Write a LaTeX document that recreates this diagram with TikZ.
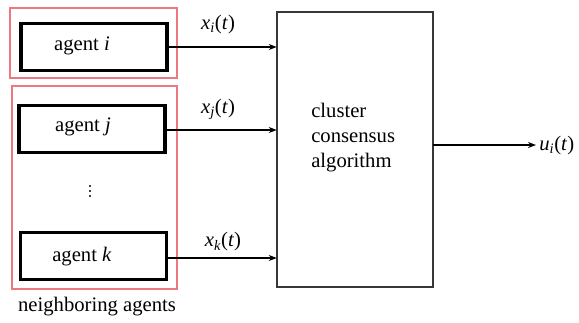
\documentclass[tikz,border=0pt]{standalone}
\usepackage{fontspec}
\setmainfont{Liberation Serif}
\newfontfamily\tms{Liberation Serif}
\usetikzlibrary{arrows.meta,calc}
\definecolor{grpred}{RGB}{238,120,130}
\definecolor{algline}{RGB}{55,55,55}
\begin{document}
\begin{tikzpicture}[x=0.75pt,y=-0.75pt,
  txt/.style={font=\tms\fontsize{15.5}{18}\selectfont, inner sep=0pt},
  agentbox/.style={draw=black, line width=2.4pt, minimum width=146*0.75pt, minimum height=47*0.75pt, inner sep=0pt},
  group/.style={draw=grpred, line width=0.8pt},
  algbox/.style={draw=algline, line width=2pt},
  stub/.style={line width=2.2pt},
  feed/.style={line width=1pt, -{Stealth[length=6pt,width=4.5pt]}},
  dotmark/.style={fill=black, circle, inner sep=0pt, minimum size=1.6pt}]
\useasboundingbox (0,0) rectangle (579,322);
% agent groups
\draw[group] (10,8) rectangle (177,78);
\draw[group] (12,86) rectangle (177,289);
% agents (labels sit a little left of the box centre)
\node[agentbox] (ai) at (94,47) {};
\node[agentbox] (aj) at (92,129) {};
\node[agentbox] (ak) at (93.5,256) {};
\node[txt] (ait) at (82,46) {agent \textit{i}};
\node[txt] (ajt) at (83,127) {agent \textit{j}};
\node[txt] (akt) at (82,257) {agent \textit{k}};
% vertical ellipsis between agent j and agent k
\foreach \y in {186,191,196} \node[dotmark] at (90,\y) {};
\node[txt] (nb) at (97,307) {neighboring agents};
% algorithm block
\draw[algbox] (277,12) rectangle (433,287);
\node[inner sep=0pt, minimum width=156*0.75pt, minimum height=275*0.75pt] (alg) at (355,149.5) {};
\node[txt, align=left, anchor=north west, font=\tms\fontsize{15.5}{18.75}\selectfont] (algtxt) at (311,103) {cluster\\consensus\\algorithm};
% inputs
\foreach \a/\y in {ai/47, aj/130, ak/258}{
  \draw[stub] (\a.east |- 0,\y) -- ++(20,0);
  \draw[feed] (\a.east |- 0,\y) -- (alg.west |- 0,\y);
}
\node[txt] (lxi) at (218,25) {\textit{x\textsubscript{i}}(\textit{t})};
\node[txt] (lxj) at (218,109) {\textit{x\textsubscript{j}}(\textit{t})};
\node[txt] (lxk) at (223,242) {\textit{x\textsubscript{k}}(\textit{t})};
% output
\coordinate (out) at (536,145);
\node[txt, anchor=west] (lu) at (539,146) {\textit{u\textsubscript{i}}(\textit{t})};
\draw[stub] (alg.east |- out) -- ++(18,0);
\draw[feed] (alg.east |- out) -- (out);
\end{tikzpicture}
\end{document}
